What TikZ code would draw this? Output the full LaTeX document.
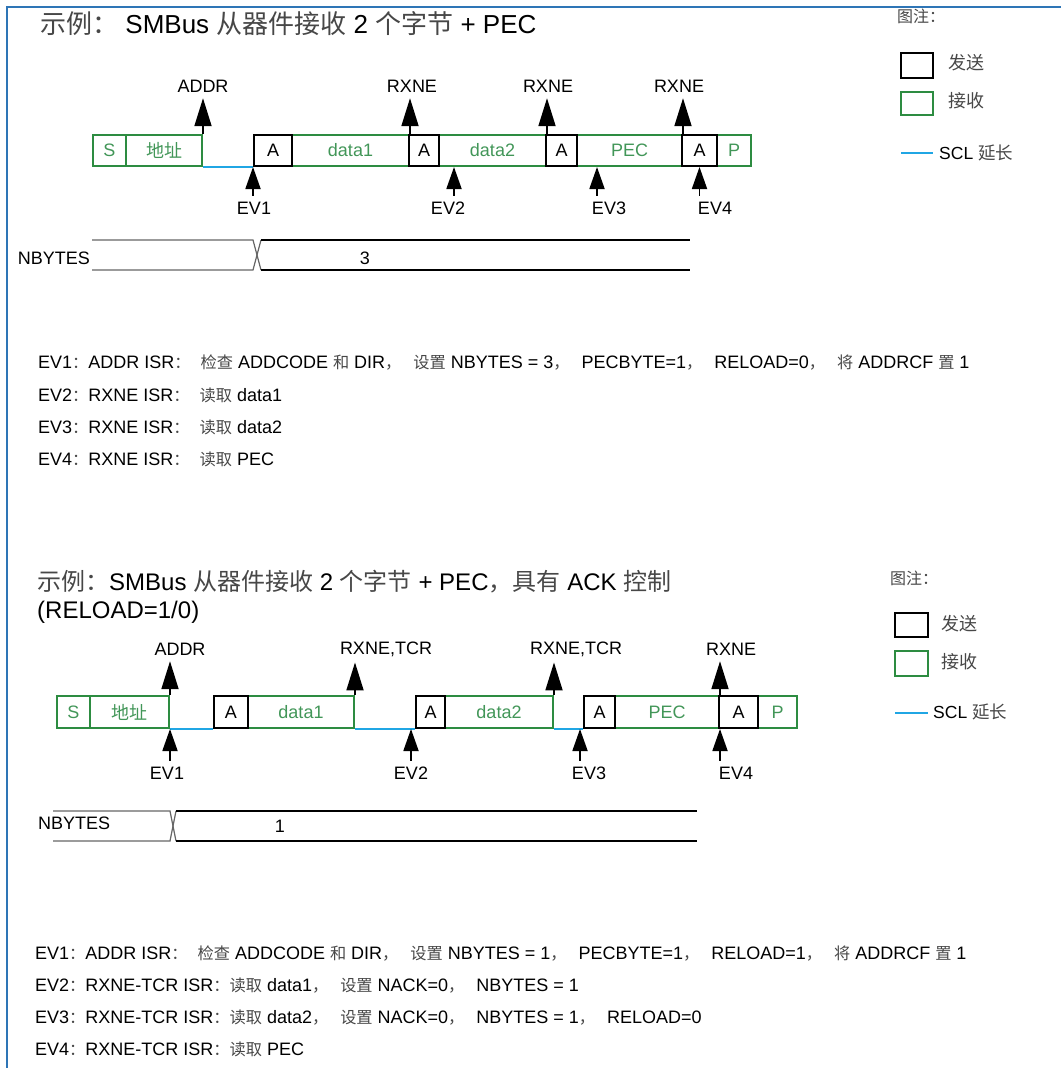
\documentclass[tikz,border=0pt]{standalone}
\usepackage{fontspec}
\setmainfont{Liberation Sans}
\newfontfamily\cjk{Noto Sans CJK SC}
\newfontfamily\cjksm[Scale=0.9]{Noto Sans CJK SC}
\usetikzlibrary{arrows.meta}

\definecolor{frameblue}{RGB}{46,117,182}
\definecolor{sclblue}{RGB}{32,166,228}
\definecolor{rxgreen}{RGB}{45,140,65}
\definecolor{rxtext}{RGB}{66,150,88}
\colorlet{cjkgray}{black!72}

\newcommand{\zh}[1]{{\cjk\color{cjkgray}#1}}
\newcommand{\zs}[1]{{\cjksm\color{cjkgray}#1}}
\newcommand{\zcomma}{\zs{，}\hspace{12pt}}
\newcommand{\zcolon}{\zs{：}\hspace{10pt}}

\tikzset{
  every node/.style={inner sep=0pt, font=\fontsize{18}{20}\selectfont},
  txbox/.style={draw=black, line width=2pt, anchor=west},
  rxbox/.style={draw=rxgreen, line width=2pt, text=rxtext, anchor=west},
  lbl/.style={outer ysep=6pt},
  flag/.style={-{Triangle[length=28pt,width=17pt]}, line width=1.8pt},
  evflag/.style={-{Triangle[length=22pt,width=15pt]}, line width=1.8pt},
  scl/.style={sclblue, line width=2pt},
  evtxt/.style={anchor=west, font=\fontsize{18}{20}\selectfont},
  ttl/.style={anchor=west, align=left, font=\fontsize{26}{28}\selectfont},
}

\begin{document}
\begin{tikzpicture}[x=1pt,y=-1pt]
\useasboundingbox (0,0) rectangle (1061,1068);
\draw[frameblue,line width=1.3pt] (7,1068) -- (7,7) -- (1061,7);

% first example
\node[ttl] (title1) at (40,24) {\zh{示例：} SMBus \zh{从器件接收} 2 \zh{个字节} + PEC};

\node[rxbox,minimum width=33pt,minimum height=31pt] (s1) at (92,150.5) {S};
\node[rxbox,minimum width=76pt,minimum height=31pt] (adr1) at (125,150.5) {{\cjk 地址}};
\node[rxbox,minimum width=117pt,minimum height=31pt] (d1) at (291,150.5) {data1};
\node[rxbox,minimum width=107pt,minimum height=31pt] (d2) at (438,150.5) {data2};
\node[rxbox,minimum width=105pt,minimum height=31pt] (pec1) at (576,150.5) {PEC};
\node[rxbox,minimum width=34pt,minimum height=31pt] (p1) at (716,150.5) {P};
\node[txbox,minimum width=38pt,minimum height=31pt] (a1) at (253,150.5) {A};
\node[txbox,minimum width=30pt,minimum height=31pt] (a2) at (408,150.5) {A};
\node[txbox,minimum width=31pt,minimum height=31pt] (a3) at (545,150.5) {A};
\node[txbox,minimum width=35pt,minimum height=31pt] (a4) at (681,150.5) {A};
\draw[scl] (adr1.south east) -- (a1.south west);

\node[lbl] (addr1) at (203,86) {ADDR};
\node[lbl] (rx1) at (412,86) {RXNE};
\node[lbl] (rx2) at (548,86) {RXNE};
\node[lbl] (rx3) at (679,86) {RXNE};
\draw[flag] (adr1.north east) -- (adr1.north east |- addr1.south);
\draw[flag] (d1.north east) -- (d1.north east |- rx1.south);
\draw[flag] (d2.north east) -- (d2.north east |- rx2.south);
\draw[flag] (pec1.north east) -- (pec1.north east |- rx3.south);

\node[lbl] (ev1) at (254,208) {EV1};
\node[lbl] (ev2) at (448,208) {EV2};
\node[lbl] (ev3) at (609,208) {EV3};
\node[lbl] (ev4) at (715,208) {EV4};
\draw[evflag] (a1.south west |- ev1.north) -- (a1.south west);
\draw[evflag] ([xshift=6pt]ev2.north) -- ([xshift=6pt]ev2.north |- d2.south);
\draw[evflag] ([xshift=-12pt]ev3.north) -- ([xshift=-12pt]ev3.north |- pec1.south);
\draw[evflag] (a4.south |- ev4.north) -- (a4.south);

\node[anchor=east] (nb1) at (90,258) {NBYTES};
\draw[black!60,line width=1.2pt] (92,240) -- (253,240) -- (261,270);
\draw[black!60,line width=1.2pt] (92,270) -- (253,270) -- (261,240);
\draw[line width=2pt] (261,240) -- (690,240);
\draw[line width=2pt] (261,270) -- (690,270);
\node (nbv1) at (365,258) {3};

\node[evtxt] (t1a) at (38,363) {EV1\zs{：}ADDR ISR\zcolon\zs{检查} ADDCODE \zs{和} DIR\zcomma\zs{设置} NBYTES = 3\zcomma PECBYTE=1\zcomma RELOAD=0\zcomma\zs{将} ADDRCF \zs{置} 1};
\node[evtxt] (t1b) at (38,395) {EV2\zs{：}RXNE ISR\zcolon\zs{读取} data1};
\node[evtxt] (t1c) at (38,427) {EV3\zs{：}RXNE ISR\zcolon\zs{读取} data2};
\node[evtxt] (t1d) at (38,459) {EV4\zs{：}RXNE ISR\zcolon\zs{读取} PEC};

\node[anchor=west,font=\fontsize{16}{18}\selectfont] (leg1) at (897,16) {\zh{图注：}};
\node[draw,line width=2.2pt,minimum width=32pt,minimum height=25pt] (lgtx1) at (917,65.5) {};
\node[anchor=west] (lgtxt1) at (948,63) {\zh{发送}};
\node[draw=rxgreen,line width=2.2pt,minimum width=32pt,minimum height=23pt] (lgrx1) at (917,103.5) {};
\node[anchor=west] (lgrxt1) at (948,101) {\zh{接收}};
\node[anchor=west,font=\fontsize{17.5}{20}\selectfont] (lgscl1) at (939,153) {SCL \zh{延长}};
\draw[scl] (901,153) -- (933,153);

% second example, ACK control
\node[ttl,font=\fontsize{24}{28}\selectfont] (title2) at (37,597) {\zh{示例：}SMBus \zh{从器件接收} 2 \zh{个字节} + PEC\zh{，具有} ACK \zh{控制}\\(RELOAD=1/0)};

\node[rxbox,minimum width=33pt,minimum height=32pt] (s2) at (56,712) {S};
\node[rxbox,minimum width=79pt,minimum height=32pt] (adr2) at (89,712) {{\cjk 地址}};
\node[rxbox,minimum width=106pt,minimum height=32pt] (d1b) at (247,712) {data1};
\node[rxbox,minimum width=108pt,minimum height=32pt] (d2b) at (444,712) {data2};
\node[rxbox,minimum width=104pt,minimum height=32pt] (pec2) at (614,712) {PEC};
\node[rxbox,minimum width=39pt,minimum height=32pt] (p2) at (757,712) {P};
\node[txbox,minimum width=34pt,minimum height=32pt] (a5) at (213,712) {A};
\node[txbox,minimum width=29pt,minimum height=32pt] (a6) at (415,712) {A};
\node[txbox,minimum width=31pt,minimum height=32pt] (a7) at (583,712) {A};
\node[txbox,minimum width=39pt,minimum height=32pt] (a8) at (718,712) {A};
\draw[scl] (adr2.south east) -- (a5.south west);
\draw[scl] (d1b.south east) -- (a6.south west);
\draw[scl] (d2b.south east) -- (a7.south west);

\node[lbl] (addr2) at (180,649) {ADDR};
\node[lbl] (rt1) at (386,649) {RXNE,TCR};
\node[lbl] (rt2) at (576,649) {RXNE,TCR};
\node[lbl] (rx4) at (731,649) {RXNE};
\draw[flag] (adr2.north east) -- (adr2.north east |- addr2.south);
\draw[flag] (d1b.north east) -- (d1b.north east |- rt1.south);
\draw[flag] (d2b.north east) -- (d2b.north east |- rt2.south);
\draw[flag] (pec2.north east) -- (pec2.north east |- rx4.south);

\node[lbl] (ev5) at (167,773) {EV1};
\node[lbl] (ev6) at (411,773) {EV2};
\node[lbl] (ev7) at (589,773) {EV3};
\node[lbl] (ev8) at (736,773) {EV4};
\draw[evflag] (adr2.south east |- ev5.north) -- (adr2.south east);
\draw[evflag] (ev6.north) -- (ev6.north |- a6.south);
\draw[evflag] ([xshift=-9pt]ev7.north) -- ([xshift=-9pt]ev7.north |- a7.south);
\draw[evflag] (pec2.south east |- ev8.north) -- (pec2.south east);

\node[anchor=west] (nb2) at (38,823) {NBYTES};
\draw[black!60,line width=1.2pt] (53,811) -- (170,811) -- (176,841);
\draw[black!60,line width=1.2pt] (53,841) -- (170,841) -- (176,811);
\draw[line width=2pt] (176,811) -- (697,811);
\draw[line width=2pt] (176,841) -- (697,841);
\node (nbv2) at (280,826) {1};

\node[evtxt] (t2a) at (35,953) {EV1\zs{：}ADDR ISR\zcolon\zs{检查} ADDCODE \zs{和} DIR\zcomma\zs{设置} NBYTES = 1\zcomma PECBYTE=1\zcomma RELOAD=1\zcomma\zs{将} ADDRCF \zs{置} 1};
\node[evtxt] (t2b) at (35,986) {EV2\zs{：}RXNE-TCR ISR\zs{：}\zs{读取} data1\zcomma\zs{设置} NACK=0\zcomma NBYTES = 1};
\node[evtxt] (t2c) at (35,1018) {EV3\zs{：}RXNE-TCR ISR\zs{：}\zs{读取} data2\zcomma\zs{设置} NACK=0\zcomma NBYTES = 1\zcomma RELOAD=0};
\node[evtxt] (t2d) at (35,1049) {EV4\zs{：}RXNE-TCR ISR\zs{：}\zs{读取} PEC};

\node[anchor=west,font=\fontsize{16}{18}\selectfont] (leg2) at (890,578) {\zh{图注：}};
\node[draw,line width=2.2pt,minimum width=33pt,minimum height=24pt] (lgtx2) at (911.5,625) {};
\node[anchor=west] (lgtxt2) at (941,624) {\zh{发送}};
\node[draw=rxgreen,line width=2.2pt,minimum width=33pt,minimum height=25pt] (lgrx2) at (911.5,663.5) {};
\node[anchor=west] (lgrxt2) at (941,662) {\zh{接收}};
\node[anchor=west,font=\fontsize{17.5}{20}\selectfont] (lgscl2) at (933,712) {SCL \zh{延长}};
\draw[scl] (895,713) -- (928,713);
\end{tikzpicture}
\end{document}
